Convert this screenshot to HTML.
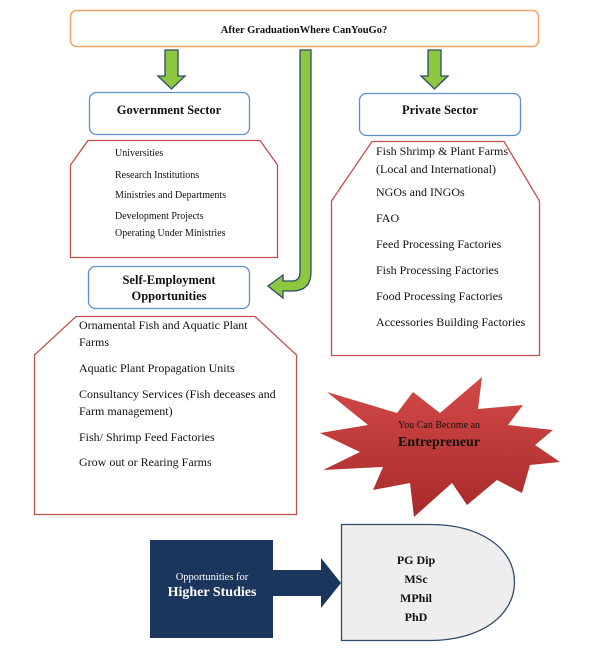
<!DOCTYPE html>
<html><head><meta charset="utf-8"><style>
html,body{margin:0;padding:0;background:#fff;}
svg{display:block;}
text{font-family:"Liberation Serif",serif;fill:#111;}
</style></head><body>
<svg width="601" height="653" viewBox="0 0 601 653" xmlns="http://www.w3.org/2000/svg">
<defs>
<linearGradient id="rg" x1="0" y1="0" x2="0" y2="1"><stop offset="0" stop-color="#d24a48"/><stop offset="1" stop-color="#a82a2a"/></linearGradient>
</defs>
<rect x="70.5" y="10.5" width="468" height="36" rx="6" fill="#fff" stroke="#f4a460" stroke-width="1.5"/>
<text x="304" y="33" font-size="10.5" font-weight="bold" text-anchor="middle" font-family="DejaVu Serif, serif">After GraduationWhere CanYouGo?</text>
<path d="M165,50 H178 V76 H185 L171.5,89 L158,76 H165 Z" fill="#8dc63f" stroke="#2e4a6b" stroke-width="1.3"/>
<path d="M428,50 H441 V76 H448 L434.5,89 L421,76 H428 Z" fill="#8dc63f" stroke="#2e4a6b" stroke-width="1.3"/>
<path d="M300,50 H311 V272 Q311,291 292,291 H283 V298 L268,286 L283,275 V281 H292 Q300,281 300,272 Z" fill="#8dc63f" stroke="#2e4a6b" stroke-width="1.3"/>
<rect x="89.5" y="92.5" width="160" height="42" rx="7" fill="#fff" stroke="#5b8fd0" stroke-width="1.3"/>
<text x="169" y="114" font-size="12.5" font-weight="bold" text-anchor="middle">Government Sector</text>
<path d="M70.5,257.5 V165 L88,140.5 H260 L277.5,165 V257.5 Z" fill="#fff" stroke="#c0504d" stroke-width="1.3"/>
<g font-size="10" font-family="DejaVu Serif, serif">
<text x="115" y="156">Universities</text>
<text x="115" y="178">Research Institutions</text>
<text x="115" y="198">Ministries and Departments</text>
<text x="115" y="219">Development Projects</text>
<text x="115" y="236">Operating Under Ministries</text>
</g>
<rect x="359.5" y="93.5" width="161" height="42" rx="7" fill="#fff" stroke="#5b8fd0" stroke-width="1.3"/>
<text x="440" y="114" font-size="12.5" font-weight="bold" text-anchor="middle">Private Sector</text>
<path d="M331.5,355.5 V201 L372,141.5 H504 L539.5,201 V355.5 Z" fill="#fff" stroke="#c0504d" stroke-width="1.3"/>
<g font-size="12">
<text x="376" y="155">Fish Shrimp &amp; Plant Farms</text>
<text x="376" y="173">(Local and International)</text>
<text x="376" y="196">NGOs and INGOs</text>
<text x="376" y="222">FAO</text>
<text x="376" y="248">Feed Processing Factories</text>
<text x="376" y="274">Fish Processing Factories</text>
<text x="376" y="300">Food Processing Factories</text>
<text x="376" y="326">Accessories Building Factories</text>
</g>
<rect x="88.5" y="266.5" width="161" height="42" rx="7" fill="#fff" stroke="#5b8fd0" stroke-width="1.3"/>
<text x="169" y="284" font-size="12.5" font-weight="bold" text-anchor="middle">Self-Employment</text>
<text x="169" y="300" font-size="12.5" font-weight="bold" text-anchor="middle">Opportunities</text>
<path d="M34.5,514.5 V355 L76,316.5 H255 L296.5,355 V514.5 Z" fill="#fff" stroke="#c0504d" stroke-width="1.3"/>
<g font-size="12">
<text x="79" y="329">Ornamental Fish and Aquatic Plant</text>
<text x="79" y="346">Farms</text>
<text x="79" y="372">Aquatic Plant Propagation Units</text>
<text x="79" y="398">Consultancy Services (Fish deceases and</text>
<text x="79" y="415">Farm management)</text>
<text x="79" y="441">Fish/ Shrimp Feed Factories</text>
<text x="79" y="466">Grow out or Rearing Farms</text>
</g>
<polygon points="482,377 478,409 523,405 508,425 553,430 535,445 560,462 530,465 522,493 497,480 467,505 452,483 414,517 410,483 373,490 383,467 323,470 360,452 320,433 368,425 327,392 397,413 413,392 440,413" fill="url(#rg)"/>
<text x="439" y="428" font-size="10" text-anchor="middle">You Can Become an</text>
<text x="439" y="446" font-size="14" font-weight="bold" text-anchor="middle">Entrepreneur</text>
<rect x="150" y="540" width="123" height="98" fill="#1b365d"/>
<path d="M273,570 H321 V558 L341,583 L321,608 V596 H273 Z" fill="#1b365d"/>
<text x="212" y="580" font-size="10.5" text-anchor="middle" style="fill:#fff">Opportunities for</text>
<text x="212" y="596" font-size="14" font-weight="bold" text-anchor="middle" style="fill:#fff">Higher Studies</text>
<path d="M341.5,524.5 H430 C480,524.5 514.5,548 514.5,582 C514.5,616 480,640.5 430,640.5 H341.5 Z" fill="#eeeeee" stroke="#2e4a6b" stroke-width="1.3"/>
<g font-size="12" font-weight="bold" text-anchor="middle">
<text x="416" y="564">PG Dip</text>
<text x="416" y="583">MSc</text>
<text x="416" y="602">MPhil</text>
<text x="416" y="621">PhD</text>
</g>
</svg>
</body></html>
